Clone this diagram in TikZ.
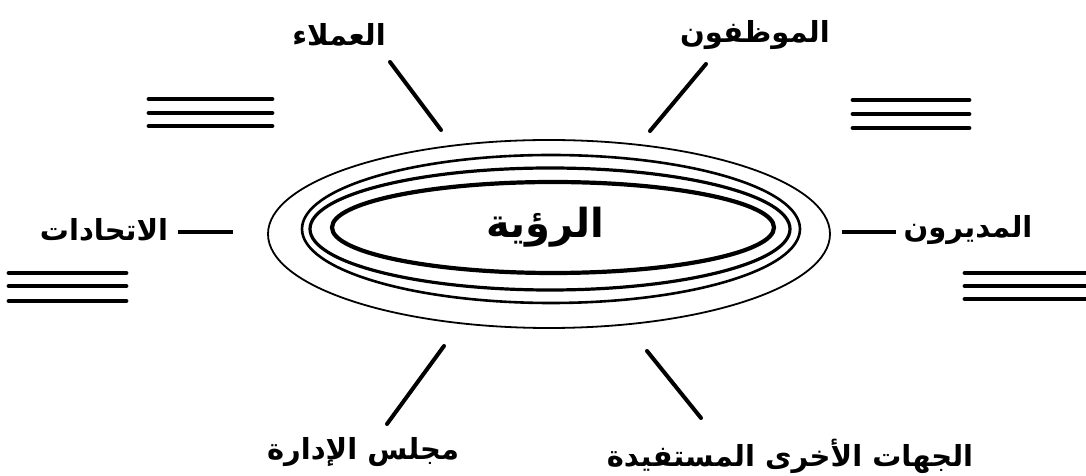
\documentclass[tikz,border=0pt]{standalone}
\usepackage{fontspec}
\TeXXeTstate=1
\newfontfamily\arabicfont[Script=Arabic]{DejaVu Sans}
\tikzset{
  lbl/.style={font=\arabicfont\bfseries\fontsize{29}{33}\selectfont, inner sep=0pt},
  spoke/.style={line width=4pt, line cap=round},
  bars/.style={line width=4.8pt, line cap=round},
  dashline/.style={line width=3.8pt},
}
\begin{document}
\begin{tikzpicture}[x=1pt,y=1pt]
\useasboundingbox (0,0) rectangle (1086,476);
\fill[white] (0,0) rectangle (1086,476);
% rings
\draw[line width=1.8pt] (549,242) ellipse [x radius=281, y radius=94];
\draw[line width=2.6pt] (551,247) ellipse [x radius=249, y radius=74];
\draw[line width=3.2pt] (550,247) ellipse [x radius=240, y radius=61];
\draw[line width=4.2pt] (553,248.5) ellipse [x radius=221, y radius=45.5];
\node[font=\arabicfont\bfseries\fontsize{40}{44}\selectfont, inner sep=0pt] (center) at (545,249) {\beginR الرؤية\endR};
% labels
\node[lbl] (clients) at (339,441) {\beginR العملاء\endR};
\node[lbl] (staff) at (755,441) {\beginR الموظفون\endR};
\node[lbl] (unions) at (104,246) {\beginR الاتحادات\endR};
\node[lbl] (managers) at (968,246) {\beginR المديرون\endR};
\node[lbl] (board) at (363,24) {\beginR مجلس الإدارة\endR};
\node[lbl] (others) at (790,20) {\beginR الجهات الأخرى المستفيدة\endR};
% spoke end points
\coordinate (ula) at (390,414); \coordinate (ulb) at (441,346);
\coordinate (ura) at (706,412); \coordinate (urb) at (650,345);
\coordinate (lla) at (444,130); \coordinate (llb) at (387,52);
\coordinate (lra) at (647,125); \coordinate (lrb) at (701,58);
\coordinate (la) at (178,244); \coordinate (lb) at (233,244);
\coordinate (ra) at (842,244); \coordinate (rb) at (896,244);
\draw[spoke] (ula) -- (ulb);
\draw[spoke] (ura) -- (urb);
\draw[spoke] (lla) -- (llb);
\draw[spoke] (lra) -- (lrb);
\draw[dashline] (la) -- (lb);
\draw[dashline] (ra) -- (rb);
% triple bars
\foreach \y in {377,363,350} \draw[bars] (149,\y) -- (272,\y);
\foreach \y in {376,362,348} \draw[bars] (853,\y) -- (969,\y);
\foreach \y in {203,190,175} \draw[bars] (9,\y) -- (126,\y);
\foreach \y in {203,190,177} \draw[bars] (965,\y) -- (1086,\y);
\end{tikzpicture}
\end{document}
